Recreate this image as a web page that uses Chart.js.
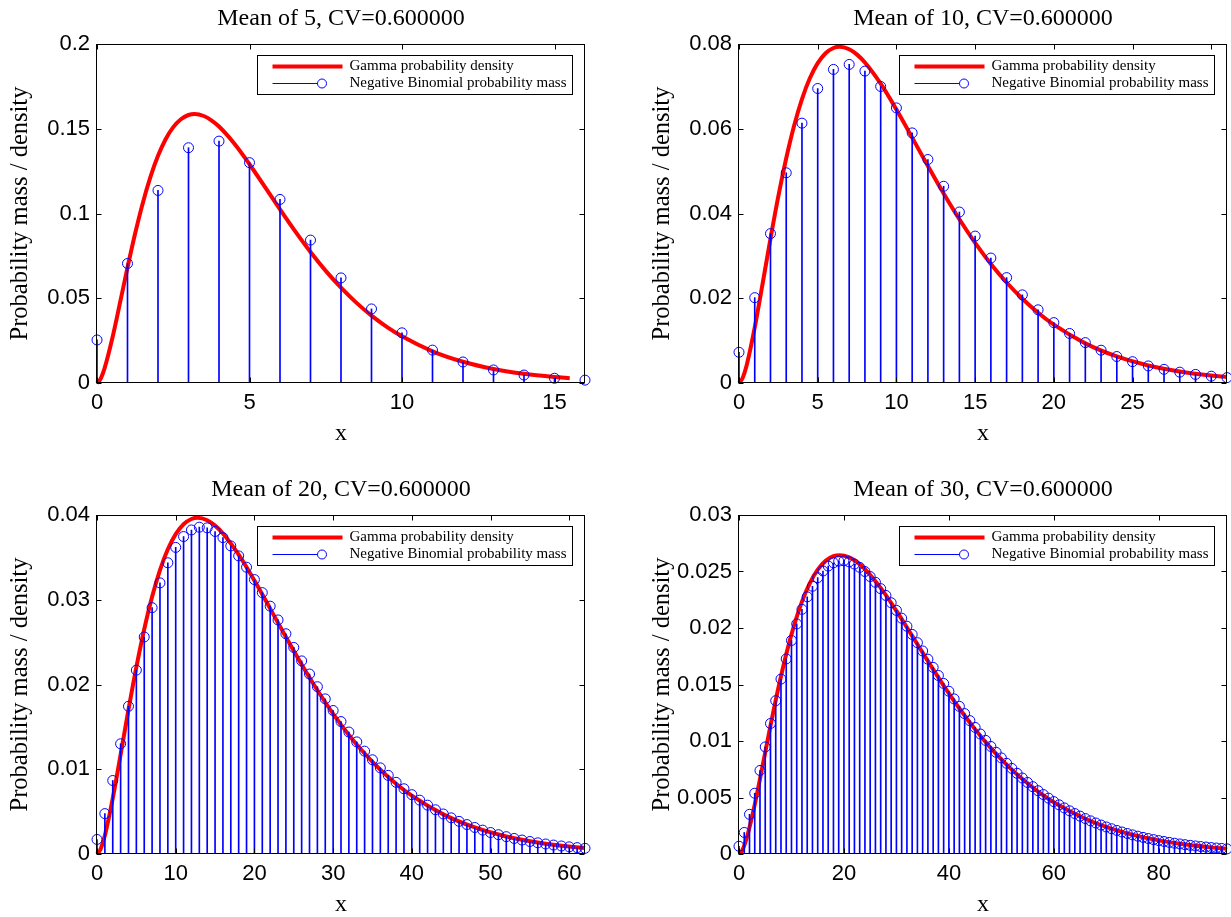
<!DOCTYPE html>
<html>
<head>
<meta charset="utf-8">
<title>Gamma density vs Negative Binomial mass</title>
<script src="https://cdn.jsdelivr.net/npm/chart.js@4.4.1/dist/chart.umd.min.js"></script>
<style>
  html, body { margin: 0; padding: 0; background: #fff; }
  body { width: 1231px; height: 917px; position: relative; overflow: hidden; }
  canvas { position: absolute; }
</style>
</head>
<body>
<canvas id="mean5" width="615" height="460" style="left:0;top:0"></canvas>
<canvas id="mean10" width="615" height="460" style="left:642px;top:0"></canvas>
<canvas id="mean20" width="615" height="460" style="left:0;top:471px"></canvas>
<canvas id="mean30" width="615" height="460" style="left:642px;top:471px"></canvas>
<script>
const legendLabels = ["Gamma probability density", "Negative Binomial probability mass"];
const yAxisLabel = "Probability mass / density";
const xAxisLabel = "x";

// Mean of 5
const mean5Title = "Mean of 5, CV=0.600000";
const mean5Counts = [0, 1, 2, 3, 4, 5, 6, 7, 8, 9, 10, 11, 12, 13, 14, 15, 16];
const mean5Mass = [0.0254, 0.0705, 0.1136, 0.1388, 0.1427, 0.1300, 0.1083, 0.0843, 0.0620, 0.0437, 0.0296, 0.0194, 0.0124, 0.0077, 0.0047, 0.0028, 0.0017];
const mean5CurveX = [0, 0.1, 0.25, 0.5, 0.75, 1, 1.25, 1.5, 1.75, 2, 2.25, 2.5, 2.75, 3, 3.2, 3.5, 3.75, 4, 4.5, 5, 5.5, 6, 6.5, 7, 7.5, 8, 8.5, 9, 9.5, 10, 11, 12, 13, 14, 15, 15.5];
const mean5CurveY = [0, 0.00187, 0.00879, 0.02623, 0.04693, 0.06812, 0.08816, 0.1061, 0.12145, 0.13402, 0.14381, 0.15095, 0.15563, 0.15811, 0.15869, 0.15752, 0.15498, 0.15129, 0.14129, 0.12907, 0.11581, 0.1024, 0.08943, 0.07728, 0.06617, 0.05622, 0.04743, 0.03977, 0.03316, 0.02752, 0.0187, 0.01253, 0.00829, 0.00542, 0.00352, 0.00282];
const mean5XTicks = [0, 5, 10, 15];
const mean5YTicks = [0, 0.05, 0.1, 0.15, 0.2];
const mean5YLabels = ["0", "0.05", "0.1", "0.15", "0.2"];

// Mean of 10
const mean10Title = "Mean of 10, CV=0.600000";
const mean10Counts = [0, 1, 2, 3, 4, 5, 6, 7, 8, 9, 10, 11, 12, 13, 14, 15, 16, 17, 18, 19, 20, 21, 22, 23, 24, 25, 26, 27, 28, 29, 30, 31];
const mean10Mass = [0.00725, 0.02014, 0.03525, 0.04961, 0.06132, 0.06950, 0.07400, 0.07518, 0.07361, 0.06998, 0.06492, 0.05902, 0.05274, 0.04643, 0.04035, 0.03467, 0.02949, 0.02487, 0.02080, 0.01727, 0.01425, 0.01169, 0.00953, 0.00774, 0.00625, 0.00503, 0.00403, 0.00322, 0.00256, 0.00203, 0.00161, 0.00127];
const mean10CurveX = [0, 0.2, 0.5, 1, 1.5, 2, 2.5, 3, 3.5, 4, 4.5, 5, 5.5, 6, 6.4, 7, 7.5, 8, 9, 10, 11, 12, 13, 14, 15, 16, 17, 18, 19, 20, 22, 24, 26, 28, 30, 31];
const mean10CurveY = [0, 0.000937, 0.004394, 0.013114, 0.023467, 0.034061, 0.044079, 0.053049, 0.060726, 0.067012, 0.071907, 0.075474, 0.077816, 0.079055, 0.079343, 0.078761, 0.077492, 0.075643, 0.070643, 0.064533, 0.057906, 0.0512, 0.044713, 0.038638, 0.033086, 0.028108, 0.023714, 0.019884, 0.016581, 0.013758, 0.009352, 0.006263, 0.004143, 0.002712, 0.001759, 0.001412];
const mean10XTicks = [0, 5, 10, 15, 20, 25, 30];
const mean10YTicks = [0, 0.02, 0.04, 0.06, 0.08];
const mean10YLabels = ["0", "0.02", "0.04", "0.06", "0.08"];

// Mean of 20
const mean20Title = "Mean of 20, CV=0.600000";
const mean20Counts = [0, 1, 2, 3, 4, 5, 6, 7, 8, 9, 10, 11, 12, 13, 14, 15, 16, 17, 18, 19, 20, 21, 22, 23, 24, 25, 26, 27, 28, 29, 30, 31, 32, 33, 34, 35, 36, 37, 38, 39, 40, 41, 42, 43, 44, 45, 46, 47, 48, 49, 50, 51, 52, 53, 54, 55, 56, 57, 58, 59, 60, 61, 62];
const mean20Mass = [0.001716, 0.004766, 0.008671, 0.013006, 0.017432, 0.021693, 0.025610, 0.029065, 0.031992, 0.034362, 0.036176, 0.037455, 0.038235, 0.038562, 0.038485, 0.038057, 0.037330, 0.036354, 0.035176, 0.033839, 0.032382, 0.030840, 0.029243, 0.027618, 0.025988, 0.024371, 0.022783, 0.021236, 0.019740, 0.018303, 0.016930, 0.015625, 0.014391, 0.013228, 0.012136, 0.011115, 0.010163, 0.009278, 0.008457, 0.007698, 0.006998, 0.006353, 0.005761, 0.005218, 0.004721, 0.004266, 0.003851, 0.003473, 0.003129, 0.002817, 0.002534, 0.002277, 0.002045, 0.001835, 0.001645, 0.001474, 0.001320, 0.001181, 0.001056, 0.000944, 0.000843, 0.000752, 0.000671];
const mean20CurveX = [0, 0.4, 1, 2, 3, 4, 5, 6, 7, 8, 9, 10, 11, 12, 12.8, 14, 15, 16, 18, 20, 22, 24, 26, 28, 30, 32, 34, 36, 38, 40, 44, 48, 52, 56, 60, 62];
const mean20CurveY = [0, 0.000468, 0.002197, 0.006557, 0.011734, 0.017031, 0.02204, 0.026525, 0.030363, 0.033506, 0.035954, 0.037737, 0.038908, 0.039528, 0.039672, 0.039381, 0.038746, 0.037822, 0.035322, 0.032267, 0.028953, 0.0256, 0.022357, 0.019319, 0.016543, 0.014054, 0.011857, 0.009942, 0.008291, 0.006879, 0.004676, 0.003132, 0.002072, 0.001356, 0.00088, 0.000706];
const mean20XTicks = [0, 10, 20, 30, 40, 50, 60];
const mean20YTicks = [0, 0.01, 0.02, 0.03, 0.04];
const mean20YLabels = ["0", "0.01", "0.02", "0.03", "0.04"];

// Mean of 30
const mean30Title = "Mean of 30, CV=0.600000";
const mean30Counts = [0, 1, 2, 3, 4, 5, 6, 7, 8, 9, 10, 11, 12, 13, 14, 15, 16, 17, 18, 19, 20, 21, 22, 23, 24, 25, 26, 27, 28, 29, 30, 31, 32, 33, 34, 35, 36, 37, 38, 39, 40, 41, 42, 43, 44, 45, 46, 47, 48, 49, 50, 51, 52, 53, 54, 55, 56, 57, 58, 59, 60, 61, 62, 63, 64, 65, 66, 67, 68, 69, 70, 71, 72, 73, 74, 75, 76, 77, 78, 79, 80, 81, 82, 83, 84, 85, 86, 87, 88, 89, 90, 91, 92, 93];
const mean30Mass = [0.000686, 0.001906, 0.003512, 0.005377, 0.007393, 0.009474, 0.011550, 0.013567, 0.015483, 0.017267, 0.018898, 0.020361, 0.021649, 0.022759, 0.023692, 0.024452, 0.025046, 0.025483, 0.025771, 0.025922, 0.025946, 0.025854, 0.025658, 0.025369, 0.024997, 0.024553, 0.024046, 0.023485, 0.022879, 0.022236, 0.021563, 0.020867, 0.020155, 0.019431, 0.018701, 0.017969, 0.017239, 0.016514, 0.015798, 0.015093, 0.014401, 0.013725, 0.013065, 0.012424, 0.011802, 0.011200, 0.010618, 0.010057, 0.009518, 0.009000, 0.008503, 0.008028, 0.007573, 0.007139, 0.006725, 0.006331, 0.005956, 0.005600, 0.005262, 0.004942, 0.004638, 0.004351, 0.004079, 0.003822, 0.003580, 0.003352, 0.003137, 0.002934, 0.002743, 0.002563, 0.002394, 0.002235, 0.002086, 0.001946, 0.001815, 0.001692, 0.001577, 0.001469, 0.001368, 0.001274, 0.001186, 0.001104, 0.001027, 0.000955, 0.000888, 0.000825, 0.000767, 0.000712, 0.000661, 0.000614, 0.000570, 0.000529, 0.000491, 0.000455];
const mean30CurveX = [0, 0.6, 1.5, 3, 4.5, 6, 7.5, 9, 10.5, 12, 13.5, 15, 16.5, 18, 19.2, 21, 22.5, 24, 27, 30, 33, 36, 39, 42, 45, 48, 51, 54, 57, 60, 66, 72, 78, 84, 90, 93];
const mean30CurveY = [0, 0.000312, 0.001465, 0.004371, 0.007822, 0.011354, 0.014693, 0.017683, 0.020242, 0.022337, 0.023969, 0.025158, 0.025939, 0.026352, 0.026448, 0.026254, 0.025831, 0.025214, 0.023548, 0.021511, 0.019302, 0.017067, 0.014904, 0.012879, 0.011029, 0.009369, 0.007905, 0.006628, 0.005527, 0.004586, 0.003117, 0.002088, 0.001381, 0.000904, 0.000586, 0.000471];
const mean30XTicks = [0, 20, 40, 60, 80];
const mean30YTicks = [0, 0.005, 0.01, 0.015, 0.02, 0.025, 0.03];
const mean30YLabels = ["0", "0.005", "0.01", "0.015", "0.02", "0.025", "0.03"];

const RED = "#ff0000";
const BLUE = "#0000ff";
const SERIF = "'Liberation Serif', 'Times New Roman', serif";
const SANS = "'Liberation Sans', Arial, sans-serif";

// Box round the axes with MATLAB style inward ticks on all four sides
const matlabAxes = {
    id: "matlabAxes",
    afterDatasetsDraw(chart) {
        const { ctx, chartArea: a, scales: { x, y } } = chart;
        const L = a.left - 0.5, R = a.right - 0.5, T = a.top + 0.5, B = a.bottom - 0.5;
        const tick = 5;
        ctx.save();
        ctx.strokeStyle = "#000";
        ctx.lineWidth = 1;
        ctx.strokeRect(L, T, R - L, B - T);
        ctx.beginPath();
        x.ticks.forEach(t => {
            const px = Math.round(x.getPixelForValue(t.value)) + 0.5;
            ctx.moveTo(px, B); ctx.lineTo(px, B - tick);
            ctx.moveTo(px, T); ctx.lineTo(px, T + tick);
        });
        y.ticks.forEach(t => {
            const py = Math.round(y.getPixelForValue(t.value)) + 0.5;
            ctx.moveTo(L, py); ctx.lineTo(L + tick, py);
            ctx.moveTo(R, py); ctx.lineTo(R - tick, py);
        });
        ctx.stroke();
        ctx.restore();
    }
};

// Legend box in the upper right corner
const matlabLegend = {
    id: "matlabLegend",
    afterDraw(chart) {
        const { ctx, chartArea: a } = chart;
        const w = 315, h = 39;
        const L = Math.round(a.right - 13 - w) + 0.5;
        const T = Math.round(a.top + 11) + 0.5;
        ctx.save();
        ctx.fillStyle = "#fff";
        ctx.fillRect(L, T, w, h);
        ctx.strokeStyle = "#000";
        ctx.lineWidth = 1;
        ctx.strokeRect(L, T, w, h);

        const row1 = T + 11, row2 = T + 28;
        ctx.strokeStyle = RED;
        ctx.lineWidth = 4;
        ctx.beginPath();
        ctx.moveTo(L + 15, row1); ctx.lineTo(L + 85, row1);
        ctx.stroke();

        ctx.strokeStyle = BLUE;
        ctx.lineWidth = 1;
        ctx.beginPath();
        ctx.moveTo(L + 15, row2); ctx.lineTo(L + 60, row2);
        ctx.stroke();
        ctx.beginPath();
        ctx.arc(L + 64.5, row2, 4.5, 0, Math.PI * 2);
        ctx.stroke();

        ctx.fillStyle = "#000";
        ctx.font = "15px " + SERIF;
        ctx.textBaseline = "middle";
        ctx.textAlign = "left";
        ctx.fillText(legendLabels[0], L + 92, row1);
        ctx.fillText(legendLabels[1], L + 92, row2);
        ctx.restore();
    }
};

function makeSubplot(id, p) {
    const points = p.counts.map((c, i) => ({ x: c, y: p.mass[i] }));
    const curve = p.curveX.map((cx, i) => ({ x: cx, y: p.curveY[i] }));

    return new Chart(document.getElementById(id), {
        type: "line",
        data: {
            datasets: [
                {
                    type: "line",
                    label: legendLabels[1],
                    data: points,
                    showLine: false,
                    pointRadius: 5,
                    pointHoverRadius: 5,
                    pointBorderColor: BLUE,
                    pointBackgroundColor: "rgba(0,0,0,0)",
                    pointBorderWidth: 1,
                    clip: false,
                    order: 1
                },
                {
                    type: "bar",
                    label: "stems",
                    data: points,
                    backgroundColor: BLUE,
                    barThickness: 1,
                    borderWidth: 0,
                    order: 2
                },
                {
                    type: "line",
                    label: legendLabels[0],
                    data: curve,
                    borderColor: RED,
                    borderWidth: 4,
                    pointRadius: 0,
                    fill: false,
                    cubicInterpolationMode: "monotone",
                    clip: 4,
                    order: 3
                }
            ]
        },
        options: {
            responsive: false,
            animation: false,
            events: [],
            layout: { padding: { left: 0, right: 30, top: 0, bottom: 0 } },
            plugins: {
                legend: { display: false },
                tooltip: { enabled: false },
                title: {
                    display: true,
                    fullSize: false,
                    text: p.title,
                    color: "#000",
                    font: { family: SERIF, size: 24, weight: "normal" },
                    padding: { top: 4, bottom: 11.2 }
                }
            },
            scales: {
                x: {
                    type: "linear",
                    min: 0,
                    max: p.xMax,
                    offset: false,
                    grid: { display: false, drawTicks: false },
                    border: { display: false },
                    afterBuildTicks: s => { s.ticks = p.xTicks.map(v => ({ value: v })); },
                    afterFit: s => { s.height = 77; },
                    ticks: {
                        color: "#000",
                        font: { family: SANS, size: 22 },
                        padding: 7,
                        maxRotation: 0,
                        autoSkip: false,
                        callback: v => String(v)
                    },
                    title: {
                        display: true,
                        text: xAxisLabel,
                        color: "#000",
                        font: { family: SERIF, size: 24 },
                        padding: { top: 0, bottom: 12 }
                    }
                },
                y: {
                    type: "linear",
                    min: 0,
                    max: p.yMax,
                    grid: { display: false, drawTicks: false },
                    border: { display: false },
                    afterBuildTicks: s => { s.ticks = p.yTicks.map(v => ({ value: v })); },
                    afterFit: s => { s.width = 97; },
                    ticks: {
                        color: "#000",
                        font: { family: SANS, size: 22 },
                        padding: 7,
                        autoSkip: false,
                        callback: (v, i) => p.yLabels[i]
                    },
                    title: {
                        display: true,
                        text: yAxisLabel,
                        color: "#000",
                        font: { family: SERIF, size: 24.5 },
                        padding: { top: 6, bottom: 0 }
                    }
                }
            }
        },
        plugins: [matlabAxes, matlabLegend]
    });
}

document.addEventListener("DOMContentLoaded", () => {
    makeSubplot("mean5", { title: mean5Title, counts: mean5Counts, mass: mean5Mass, curveX: mean5CurveX, curveY: mean5CurveY, xMax: 16, yMax: 0.2, xTicks: mean5XTicks, yTicks: mean5YTicks, yLabels: mean5YLabels });
    makeSubplot("mean10", { title: mean10Title, counts: mean10Counts, mass: mean10Mass, curveX: mean10CurveX, curveY: mean10CurveY, xMax: 31, yMax: 0.08, xTicks: mean10XTicks, yTicks: mean10YTicks, yLabels: mean10YLabels });
    makeSubplot("mean20", { title: mean20Title, counts: mean20Counts, mass: mean20Mass, curveX: mean20CurveX, curveY: mean20CurveY, xMax: 62, yMax: 0.04, xTicks: mean20XTicks, yTicks: mean20YTicks, yLabels: mean20YLabels });
    makeSubplot("mean30", { title: mean30Title, counts: mean30Counts, mass: mean30Mass, curveX: mean30CurveX, curveY: mean30CurveY, xMax: 93, yMax: 0.03, xTicks: mean30XTicks, yTicks: mean30YTicks, yLabels: mean30YLabels });
});
</script>
</body>
</html>
